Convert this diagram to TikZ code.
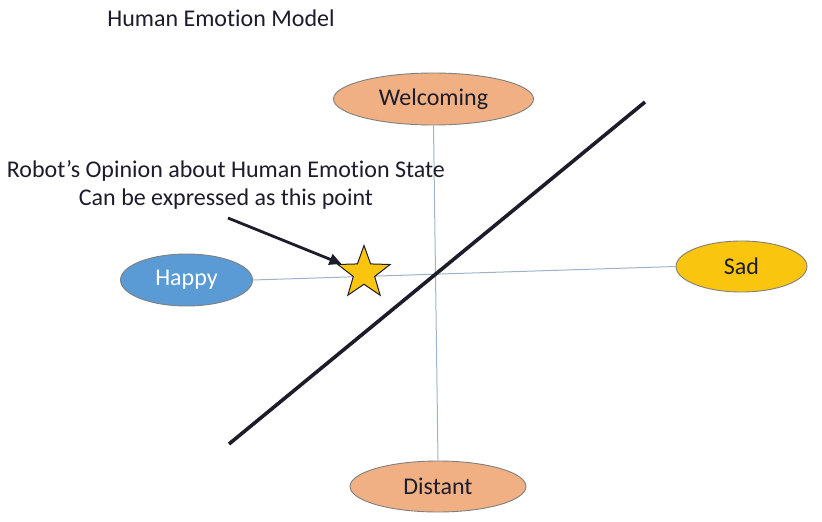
\documentclass[tikz,border=0pt]{standalone}
\usepackage{fontspec}
\setmainfont{Carlito}[Ligatures={NoCommon,NoContextual}]
\usetikzlibrary{shapes.geometric,arrows.meta}
\definecolor{peach}{HTML}{F0B084}
\definecolor{bluefill}{HTML}{5B9BD5}
\definecolor{goldfill}{HTML}{F9C50F}
\definecolor{edgegray}{HTML}{7F7F7F}
\definecolor{inkdark}{HTML}{1C1C2A}
\definecolor{axisline}{HTML}{9FB3C8}
\tikzset{
  emo/.style={ellipse, draw=edgegray, line width=0.9pt, inner sep=0pt, text=inkdark,
    font=\fontsize{24}{29}\selectfont},
  lbl/.style={text=inkdark, font=\fontsize{24}{29}\selectfont, inner sep=0pt, anchor=base},
  axis/.style={draw=axisline, line width=1pt},
  diag/.style={draw=inkdark, line width=3.6pt},
  pointer/.style={draw=inkdark, line width=2.8pt, -{Triangle[length=12pt,width=11pt]}},
  starpt/.style={star, star points=5, star point ratio=2.45, minimum size=55pt, inner sep=0pt,
    fill=goldfill, draw=inkdark, line width=1pt}
}
\begin{document}
\begin{tikzpicture}[x=1pt,y=-1pt]
\useasboundingbox (0,0) rectangle (822,522);
\node[lbl] (title) at (221,27) {Human Emot\kern0pt ion Model};
\node[emo, fill=peach, minimum width=200pt, minimum height=52pt] (wel) at (433.5,99) {Welcoming};
\node[emo, fill=bluefill, text=white, minimum width=132pt, minimum height=52pt] (hap) at (186.5,280) {Happy};
\node[emo, fill=goldfill, minimum width=131pt, minimum height=51pt] (sad) at (741.5,266.5) {Sad};
\node[emo, fill=peach, minimum width=176pt, minimum height=51pt] (dis) at (438,486.5) {Distant};
\draw[axis] (wel.south) -- (dis.north);
\draw[axis] (hap.east) -- (sad.west);
\coordinate (d1) at (229,444);
\coordinate (d2) at (645,102);
\draw[diag] (d1) -- (d2);
\node[starpt] (st) at (364,273) {};
\node[lbl] (r1) at (226,177) {Robot’s Opinion about Human Emot\kern0pt ion State};
\node[lbl] (r2) at (226,205) {Can be expressed as this point};
\coordinate (a0) at (228,218);
\draw[pointer] (a0) -- (st);
\end{tikzpicture}
\end{document}
